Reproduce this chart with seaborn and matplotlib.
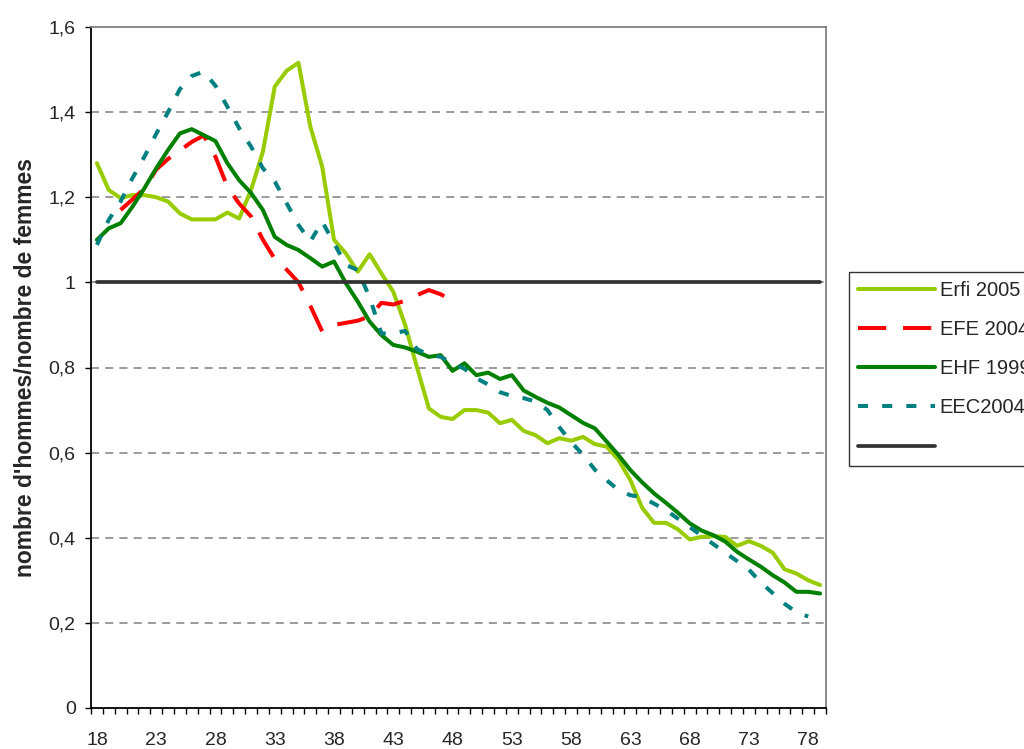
import numpy as np
import pandas as pd
import matplotlib
matplotlib.use("Agg")
import matplotlib.pyplot as plt
import seaborn as sns

# ages 18..79 (category axis)
ages = list(range(18, 80))

erfi_2005 = [1.28, 1.217, 1.198, 1.205, 1.205, 1.20, 1.19, 1.162, 1.148, 1.148,
             1.148, 1.164, 1.15, 1.217, 1.307, 1.46, 1.497, 1.516, 1.366, 1.272,
             1.10, 1.068, 1.025, 1.066, 1.021, 0.978, 0.90, 0.80, 0.704, 0.684,
             0.679, 0.70, 0.70, 0.694, 0.669, 0.677, 0.651, 0.641, 0.622, 0.634,
             0.628, 0.637, 0.62, 0.614, 0.583, 0.535, 0.47, 0.435, 0.435, 0.42,
             0.396, 0.402, 0.404, 0.402, 0.381, 0.392, 0.381, 0.365, 0.326, 0.316,
             0.30, 0.289]

efe_ages = list(range(20, 49))
efe_2004 = [1.17, 1.195, 1.22, 1.265, 1.29, 1.31, 1.33, 1.345, 1.295, 1.225,
            1.185, 1.155, 1.10, 1.055, 1.03, 1.00, 0.945, 0.885, 0.90, 0.905,
            0.91, 0.92, 0.952, 0.948, 0.957, 0.97, 0.982, 0.972, 0.957]

ehf_1999 = [1.10, 1.127, 1.139, 1.178, 1.221, 1.268, 1.311, 1.35, 1.36, 1.346,
            1.332, 1.28, 1.24, 1.21, 1.17, 1.107, 1.088, 1.076, 1.057, 1.037,
            1.049, 0.998, 0.955, 0.908, 0.876, 0.853, 0.847, 0.837, 0.825, 0.829,
            0.792, 0.81, 0.782, 0.788, 0.773, 0.782, 0.746, 0.731, 0.717, 0.706,
            0.688, 0.67, 0.657, 0.626, 0.594, 0.559, 0.53, 0.504, 0.482, 0.459,
            0.434, 0.417, 0.406, 0.391, 0.367, 0.349, 0.332, 0.312, 0.295, 0.273,
            0.273, 0.269]

eec_ages = list(range(18, 79))
eec_2004 = [1.088, 1.147, 1.19, 1.245, 1.295, 1.349, 1.40, 1.454, 1.485, 1.495,
            1.462, 1.413, 1.362, 1.319, 1.268, 1.237, 1.186, 1.135, 1.096, 1.143,
            1.092, 1.041, 1.029, 0.965, 0.88, 0.88, 0.886, 0.843, 0.83, 0.825,
            0.81, 0.797, 0.775, 0.76, 0.742, 0.733, 0.728, 0.72, 0.70, 0.66,
            0.625, 0.595, 0.56, 0.535, 0.512, 0.50, 0.495, 0.48, 0.465, 0.445,
            0.425, 0.405, 0.385, 0.365, 0.345, 0.325, 0.295, 0.27, 0.245, 0.225,
            0.215]

parity = [1.0] * len(ages)

labels = ["Erfi 2005", "EFE 2004", "EHF 1999", "EEC2004", ""]
yticks = [0, 0.2, 0.4, 0.6, 0.8, 1.0, 1.2, 1.4, 1.6]
ytick_labels = ["0", "0,2", "0,4", "0,6", "0,8", "1", "1,2", "1,4", "1,6"]
xticks = list(range(18, 80, 5))

sns.set_style("white")
plt.rcParams["font.family"] = ["Liberation Sans", "DejaVu Sans"]

fig = plt.figure(figsize=(10.24, 7.49), dpi=100)
ax = fig.add_axes([91 / 1024, 1 - 708 / 749, 735 / 1024, 681 / 749])

lw = 2.9
sns.lineplot(x=ages, y=erfi_2005, ax=ax, color="#99CC00", lw=lw, legend=False)
sns.lineplot(x=efe_ages, y=efe_2004, ax=ax, color="#FF0000", lw=lw,
             linestyle=(0, (7, 4.2)), legend=False)
sns.lineplot(x=ages, y=ehf_1999, ax=ax, color="#008000", lw=lw, legend=False)
sns.lineplot(x=eec_ages, y=eec_2004, ax=ax, color="#008080", lw=lw,
             linestyle=(0, (2.5, 3.5)), legend=False)
sns.lineplot(x=ages, y=parity, ax=ax, color="#333333", lw=2.7, legend=False)

ax.set_xlim(17.5, 79.5)
ax.set_ylim(0, 1.6)
ax.set_yticks(yticks)
ax.set_yticklabels(ytick_labels, fontsize=14)
ax.set_xticks(xticks)
ax.set_xticklabels([str(t) for t in xticks], fontsize=14)
ax.set_xticks(np.arange(17.5, 80, 1.0), minor=True)
ax.tick_params(axis="x", which="major", length=0, pad=17)
ax.tick_params(axis="x", which="minor", length=4, width=1, color="black", direction="out", bottom=True)
ax.tick_params(axis="y", which="major", length=4, width=1, color="black", direction="out", pad=7, left=True)

for y in yticks[1:-1]:
    ax.axhline(y, color="#808080", lw=1.1, linestyle=(0, (5.3, 4)), zorder=0)

for side in ["top", "right"]:
    ax.spines[side].set_color("#808080")
    ax.spines[side].set_linewidth(1.3)
for side in ["left", "bottom"]:
    ax.spines[side].set_color("black")
    ax.spines[side].set_linewidth(1.3)

ax.set_xlabel("")
ax.set_ylabel("nombre d'hommes/nombre de femmes", fontsize=16.5, fontweight="bold", labelpad=8)

leg = ax.legend(ax.get_lines()[:5], labels, loc="upper left",
                bbox_to_anchor=(849 / 1024, 1 - 272 / 749), bbox_transform=fig.transFigure,
                fontsize=14.5, handlelength=3.8, handletextpad=0.25, labelspacing=1.0,
                borderpad=0.45, borderaxespad=0, frameon=True, fancybox=False)
leg.get_frame().set_edgecolor("black")
leg.get_frame().set_linewidth(1.0)

fig.savefig("out.png", dpi=100)
